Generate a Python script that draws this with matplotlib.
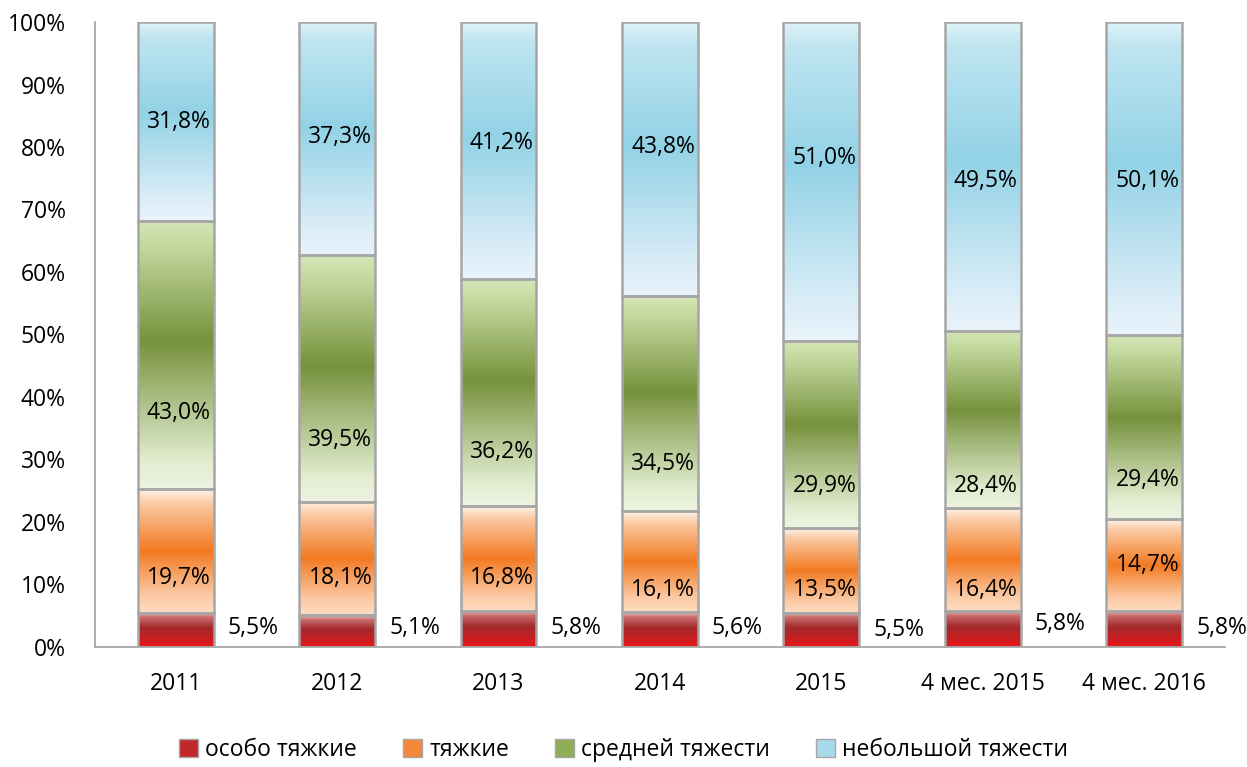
import matplotlib.pyplot as plt
import numpy as np
from matplotlib.colors import LinearSegmentedColormap
from matplotlib.patches import Patch

plt.rcParams['font.family'] = ['Open Sans', 'DejaVu Sans']

# data
categories = ["2011", "2012", "2013", "2014", "2015", "4 мес. 2015", "4 мес. 2016"]
series_names = ["особо тяжкие", "тяжкие", "средней тяжести", "небольшой тяжести"]
osobo = [5.5, 5.1, 5.8, 5.6, 5.5, 5.8, 5.8]
tyazh = [19.7, 18.1, 16.8, 16.1, 13.5, 16.4, 14.7]
sredn = [43.0, 39.5, 36.2, 34.5, 29.9, 28.4, 29.4]
nebol = [31.8, 37.3, 41.2, 43.8, 51.0, 49.5, 50.1]

# where the data labels sit (in % of axis)
label_y = [
    [3.0, 3.0, 3.0, 3.0, 2.7, 3.7, 3.0],
    [11.0, 11.0, 11.0, 9.1, 9.1, 9.1, 13.1],
    [37.4, 33.1, 31.2, 29.3, 25.8, 25.8, 26.7],
    [84.0, 81.6, 80.6, 80.0, 78.2, 74.6, 74.6],
]

# gradient stops top -> bottom for each series
grads = [
    [(0.0, "#f3c4c4"), (0.15, "#c96b6d"), (0.45, "#a3292b"), (1.0, "#e8161a")],
    [(0.0, "#fff3e8"), (0.12, "#fbc9a2"), (0.5, "#f27a22"), (0.85, "#fbc8a2"), (1.0, "#fddcc2")],
    [(0.0, "#d6e6b8"), (0.1, "#c2d89d"), (0.45, "#76923c"), (0.9, "#e2edd0"), (1.0, "#edf4e2")],
    [(0.0, "#dff3f9"), (0.08, "#bfe5f1"), (0.45, "#92d2e6"), (0.9, "#ddeef8"), (1.0, "#e9f3fb")],
]
legend_colors = ["#c0282b", "#f4883a", "#8fae55", "#a6daea"]

data = np.array([osobo, tyazh, sredn, nebol])
totals = data.sum(axis=0)
pct = data / totals * 100

fig = plt.figure(figsize=(12.47, 7.67), dpi=100)
ax = fig.add_axes([0.0762, 0.1565, 0.906, 0.8148])

fs = 16.5
x = np.arange(len(categories))
w = 0.47
bottom = np.zeros(len(categories))
for i in range(4):
    cmap = LinearSegmentedColormap.from_list("g%d" % i, grads[i])
    grad = np.linspace(0, 1, 256).reshape(-1, 1)
    for j in range(len(categories)):
        b = bottom[j]
        t = b + pct[i, j]
        ax.imshow(grad, cmap=cmap, aspect='auto', origin='upper',
                  extent=(x[j] - w / 2, x[j] + w / 2, b, t), zorder=2)
    ax.bar(x, pct[i], w, bottom=bottom, facecolor='none', edgecolor='#a6a6a6',
           linewidth=1.8, zorder=3)
    bottom += pct[i]

# data labels
for i in range(4):
    for j in range(len(categories)):
        xx = x[j] + 0.48 if i == 0 else x[j] + 0.02
        ax.text(xx, label_y[i][j], ("%.1f%%" % data[i, j]).replace(".", ","),
                ha='center', va='center', fontsize=fs, color='black', zorder=4)

ax.set_xlim(-0.5, len(categories) - 0.5)
ax.set_ylim(0, 100)
ax.set_xticks(x)
ax.set_xticklabels(categories, fontsize=fs)
ax.set_yticks(np.arange(0, 101, 10))
ax.set_yticklabels(["%d%%" % v for v in range(0, 101, 10)], fontsize=fs)
ax.tick_params(length=0)
ax.tick_params(axis='y', pad=21)
ax.tick_params(axis='x', pad=18)
for s in ['top', 'right']:
    ax.spines[s].set_visible(False)
for s in ['left', 'bottom']:
    ax.spines[s].set_color('#a0a0a0')
    ax.spines[s].set_linewidth(1.2)

handles = [Patch(facecolor=c, edgecolor='#a6a6a6') for c in legend_colors]
fig.legend(handles, series_names, loc='center', bbox_to_anchor=(0.5, 0.022),
           ncol=4, frameon=False, fontsize=fs, handlelength=0.85, handleheight=0.85,
           handletextpad=0.3, columnspacing=2.0, borderpad=0.1)

fig.savefig("out.png", dpi=100)
